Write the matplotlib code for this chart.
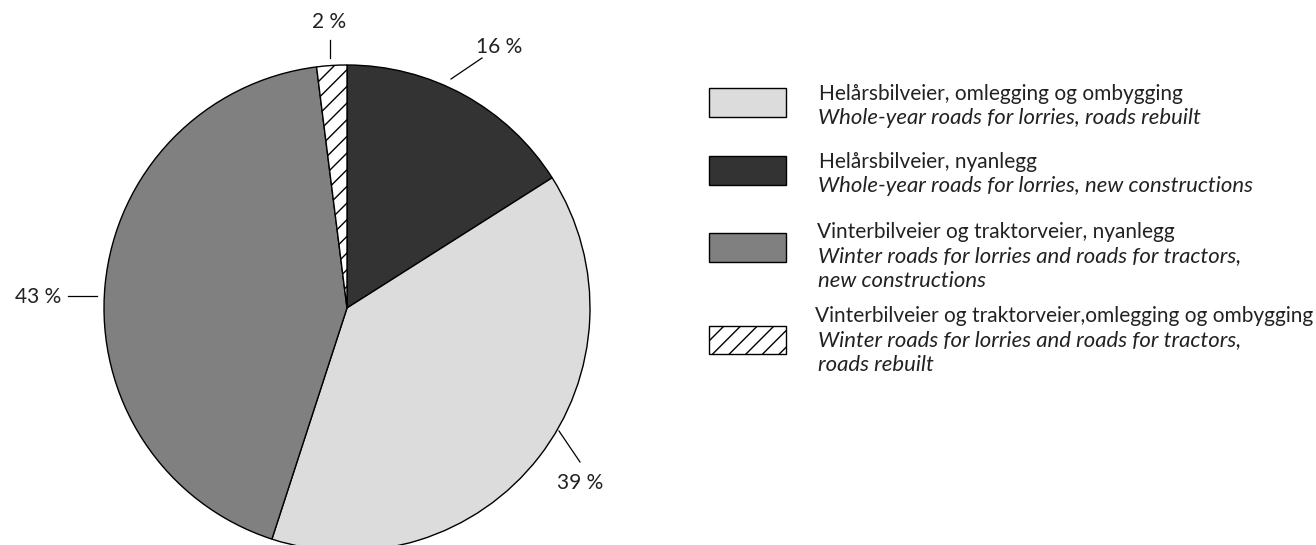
import matplotlib
matplotlib.use('AGG')
import matplotlib.pyplot as plt
from matplotlib.patches import Rectangle

plt.rcParams['font.family'] = ['Lato', 'DejaVu Sans']
plt.rcParams['hatch.linewidth'] = 1.0

# data
shares = [16, 39, 43, 2]
pct_labels = ['16 %', '39 %', '43 %', '2 %']
names_no = ['Helårsbilveier, omlegging og ombygging',
            'Helårsbilveier, nyanlegg',
            'Vinterbilveier og traktorveier, nyanlegg',
            'Vinterbilveier og traktorveier,omlegging og ombygging']
names_en = [['Whole-year roads for lorries, roads rebuilt'],
            ['Whole-year roads for lorries, new constructions'],
            ['Winter roads for lorries and roads for tractors,', 'new constructions'],
            ['Winter roads for lorries and roads for tractors,', 'roads rebuilt']]
# slice order in the pie vs legend order
pie_to_legend = [1, 0, 2, 3]

colors = ['#333333', '#dcdcdc', '#808080', 'white']
hatches = [None, None, None, '//']

W, H = 1316, 545
fig = plt.figure(figsize=(W / 100, H / 100), dpi=100)
ax = fig.add_axes([0, 0, 1, 1])

cx, cy, R = 347, H - 308, 243
wedges, _ = ax.pie(shares, colors=colors, startangle=90, counterclock=False,
                   radius=R, center=(cx, cy), frame=False,
                   wedgeprops=dict(edgecolor='black', linewidth=1))
for w, h in zip(wedges, hatches):
    if h:
        w.set_hatch(h)
ax.set_xlim(0, W)
ax.set_ylim(0, H)
ax.axis('off')

# leader lines and percent labels (pixel layout, y from top)
leaders = [((451, 79), (482, 58)), ((559, 431), (580, 462)),
           ((97, 296), (68, 296)), ((330, 58), (330, 40))]
text_pos = [(499, 47, 'center'), (580, 483, 'center'),
            (61, 297, 'right'), (329, 22, 'center')]
for (p0, p1), (tx, ty, ha), lab in zip(leaders, text_pos, pct_labels):
    ax.plot([p0[0], p1[0]], [H - p0[1], H - p1[1]], color='black', lw=0.9)
    ax.text(tx, H - ty, lab, ha=ha, va='center', fontsize=15, color='#222222')

# legend
sw_x, sw_w, sw_h = 709, 77, 28.5
sw_top = [88, 156, 233, 325.5]
txt_x = [819, 819, 817, 815]
en_x = [818, 818, 818, 818]
line1_y = [94, 162, 232, 316]
step = 24.5
for i, top in enumerate(sw_top):
    k = pie_to_legend.index(i)
    ax.add_patch(Rectangle((sw_x, H - top - sw_h), sw_w, sw_h,
                           facecolor=colors[k], edgecolor='black', lw=1,
                           hatch=hatches[k]))
    ax.text(txt_x[i], H - line1_y[i], names_no[i], ha='left', va='center',
            fontsize=15, color='#222222')
    for j, line in enumerate(names_en[i]):
        ax.text(en_x[i], H - line1_y[i] - step * (j + 1), line,
                ha='left', va='center', fontsize=15.9, style='italic',
                color='#222222')
fig.savefig('out.png', dpi=100)
